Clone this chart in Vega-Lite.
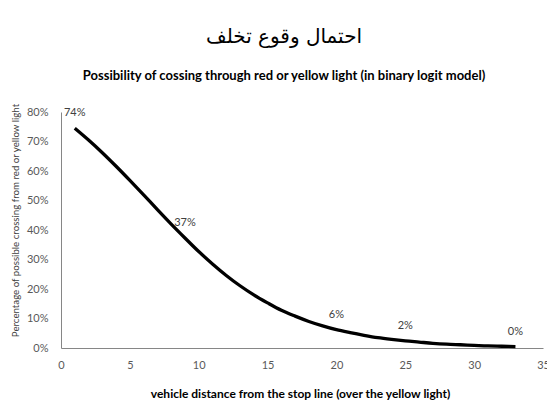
{
  "$schema": "https://vega.github.io/schema/vega-lite/v6.json",
  "autosize": "none",
  "width": 482,
  "height": 236,
  "padding": {"left": 61, "top": 112, "right": 4, "bottom": 53},
  "background": "white",
  "title": {
    "text": "احتمال وقوع تخلف",
    "subtitle": "Possibility of cossing through red or yellow light (in  binary logit model)",
    "anchor": "middle",
    "frame": "group",
    "dx": -18,
    "font": "DejaVu Sans",
    "fontSize": 20,
    "fontWeight": "normal",
    "color": "black",
    "subtitleFont": "Lato",
    "subtitleFontSize": 13,
    "subtitleFontWeight": "bold",
    "subtitleColor": "black",
    "subtitlePadding": 23,
    "offset": 20
  },
  "config": {
    "view": {"stroke": null},
    "axis": {"grid": false, "ticks": false, "domainColor": "#868686", "domainWidth": 1, "labelFont": "Lato", "labelFontSize": 11, "labelColor": "#595959"}
  },
  "data": {
    "values": [
      {"x": 1, "p": 0.745, "label": "74%"},
      {"x": 2, "p": 0.705},
      {"x": 3, "p": 0.662},
      {"x": 4, "p": 0.616},
      {"x": 5, "p": 0.568},
      {"x": 6, "p": 0.519},
      {"x": 7, "p": 0.469},
      {"x": 8, "p": 0.42},
      {"x": 9, "p": 0.373, "label": "37%"},
      {"x": 10, "p": 0.327},
      {"x": 11, "p": 0.285},
      {"x": 12, "p": 0.246},
      {"x": 13, "p": 0.211},
      {"x": 14, "p": 0.18},
      {"x": 15, "p": 0.153},
      {"x": 16, "p": 0.128},
      {"x": 17, "p": 0.108},
      {"x": 18, "p": 0.09},
      {"x": 19, "p": 0.075},
      {"x": 20, "p": 0.062, "label": "6%"},
      {"x": 21, "p": 0.052},
      {"x": 22, "p": 0.043},
      {"x": 23, "p": 0.035},
      {"x": 24, "p": 0.029},
      {"x": 25, "p": 0.024, "label": "2%"},
      {"x": 26, "p": 0.02},
      {"x": 27, "p": 0.016},
      {"x": 28, "p": 0.013},
      {"x": 29, "p": 0.011},
      {"x": 30, "p": 0.009},
      {"x": 31, "p": 0.007},
      {"x": 32, "p": 0.006},
      {"x": 33, "p": 0.005, "label": "0%"}
    ]
  },
  "encoding": {
    "x": {
      "field": "x", "type": "quantitative",
      "scale": {"domain": [0, 35], "nice": false, "zero": true},
      "axis": {
        "values": [0, 5, 10, 15, 20, 25, 30, 35],
        "labelPadding": 11,
        "labelFlush": false,
        "labelOverlap": false,
        "title": "vehicle distance from the stop line (over the yellow light)",
        "titleFont": "Lato", "titleFontSize": 12, "titleFontWeight": "bold", "titleColor": "black",
        "titleBaseline": "top", "titleY": 40, "titleX": 239
      }
    },
    "y": {
      "field": "p", "type": "quantitative",
      "scale": {"domain": [0, 0.8], "nice": false},
      "axis": {
        "values": [0, 0.1, 0.2, 0.3, 0.4, 0.5, 0.6, 0.7, 0.8],
        "format": ".0%",
        "labelPadding": 13,
        "labelFlush": false,
        "labelOverlap": false,
        "title": "Percentage of possible crossing from red or yellow light",
        "titleFont": "Lato", "titleFontSize": 9.7, "titleFontWeight": "normal", "titleColor": "#404040",
        "titleX": -41, "titleY": 108
      }
    }
  },
  "layer": [
    {"mark": {"type": "line", "color": "black", "strokeWidth": 3.3, "interpolate": "monotone", "strokeCap": "butt"}},
    {
      "transform": [{"filter": "datum.label != null"}],
      "mark": {"type": "text", "font": "Lato", "fontSize": 11, "color": "#404040", "baseline": "middle", "align": "center", "dy": -15},
      "encoding": {"text": {"field": "label"}}
    }
  ]
}
